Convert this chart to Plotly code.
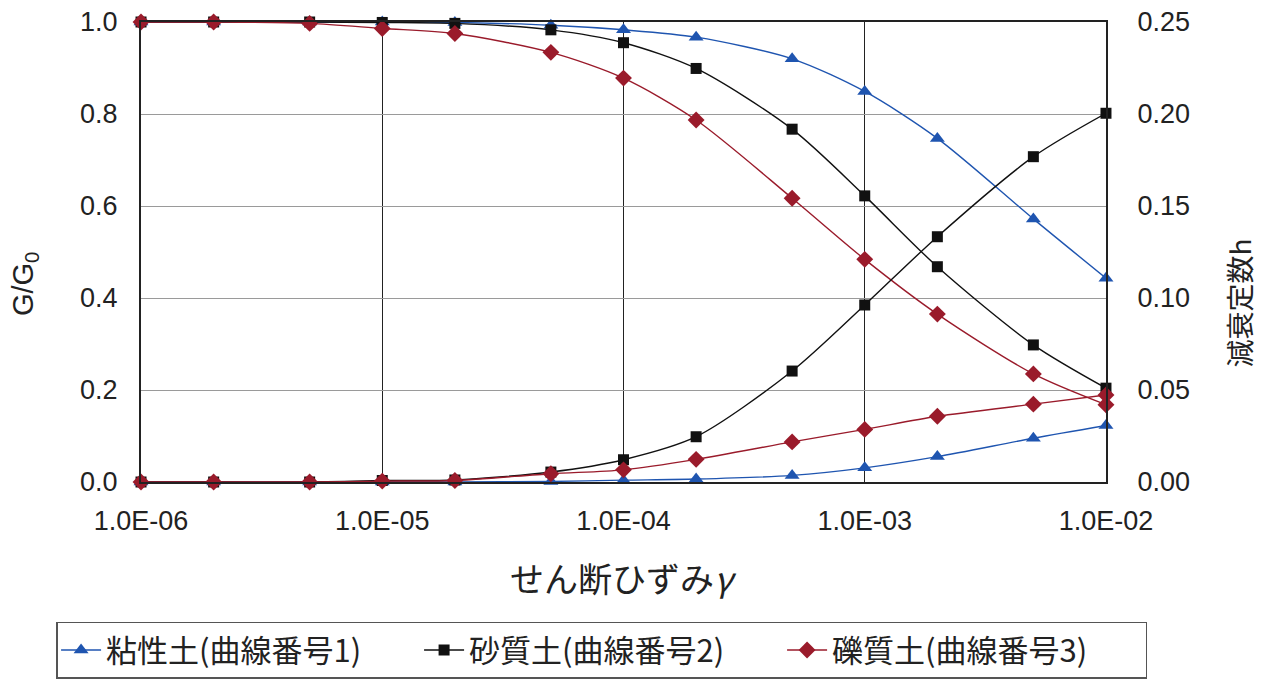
import plotly.graph_objects as go

# Shear strain levels (log scale)
strain = [1e-6, 2e-6, 5e-6, 1e-5, 2e-5, 5e-5, 1e-4, 2e-4, 5e-4, 1e-3, 2e-3, 5e-3, 1e-2]

# Shear modulus ratio G/G0
clay_g = [1.0, 1.0, 1.0, 1.0, 0.999, 0.993, 0.983, 0.967, 0.920, 0.849, 0.747, 0.572, 0.443]
sand_g = [1.0, 1.0, 1.0, 0.999, 0.997, 0.983, 0.955, 0.899, 0.767, 0.622, 0.468, 0.298, 0.204]
gravel_g = [1.0, 1.0, 0.997, 0.986, 0.975, 0.934, 0.878, 0.787, 0.617, 0.484, 0.365, 0.235, 0.168]

# Damping ratio h
clay_h = [0.0, 0.0, 0.0, 0.0, 0.0, 0.0003, 0.001, 0.0016, 0.0036, 0.0077, 0.0138, 0.0238, 0.0307]
sand_h = [0.0, 0.0, 0.0, 0.0008, 0.0011, 0.0054, 0.0121, 0.0246, 0.0603, 0.0962, 0.1333, 0.1768, 0.2004]
gravel_h = [0.0, 0.0, 0.0, 0.0005, 0.0008, 0.0045, 0.0066, 0.0123, 0.0218, 0.0286, 0.0357, 0.0423, 0.0473]

names = ["粘性土(曲線番号1)", "砂質土(曲線番号2)", "礫質土(曲線番号3)"]
colors = ["#1f55b0", "#111111", "#9a1b2b"]
symbols = ["triangle-up", "square", "diamond"]
sizes = [13, 11, 13]

x_tickvals = [1e-6, 1e-5, 1e-4, 1e-3, 1e-2]
x_ticktext = ["1.0E-06", "1.0E-05", "1.0E-04", "1.0E-03", "1.0E-02"]

FONT = "Liberation Sans, Arial, sans-serif"
CJK = "Noto Sans CJK JP, Noto Sans, sans-serif"
TXT = "#222222"

fig = go.Figure()

for name, color, sym, size, g, h in zip(
    names, colors, symbols, sizes,
    [clay_g, sand_g, gravel_g], [clay_h, sand_h, gravel_h],
):
    common = dict(
        mode="lines+markers",
        line=dict(color=color, width=1.4, shape="spline", smoothing=0.8),
        marker=dict(symbol=sym, size=size, color=color),
        legendgroup=name,
        cliponaxis=False,
    )
    fig.add_trace(go.Scatter(x=strain, y=g, name=name, yaxis="y", **common))
    fig.add_trace(go.Scatter(x=strain, y=h, name=name, yaxis="y2",
                             showlegend=False, **common))

fig.update_layout(
    width=1261,
    height=679,
    margin=dict(l=141, r=155, t=22, b=197, autoexpand=False),
    paper_bgcolor="white",
    plot_bgcolor="white",
    font=dict(family=FONT, size=28, color=TXT),
    xaxis=dict(
        type="log",
        range=[-6.0001, -1.9999],
        tickvals=x_tickvals,
        ticktext=x_ticktext,
        showgrid=True,
        gridcolor="#222222",
        gridwidth=1.3,
        showline=True,
        linecolor="#222222",
        linewidth=2,
        mirror=True,
        ticks="",
        ticklabelstandoff=14,
        tickfont=dict(family=FONT, size=27),
        zeroline=False,
    ),
    yaxis=dict(
        range=[0, 1.0],
        dtick=0.2,
        tickformat=".1f",
        showgrid=True,
        gridcolor="#9a9a9a",
        gridwidth=1,
        showline=True,
        linecolor="#222222",
        linewidth=2,
        mirror=True,
        ticks="",
        ticklabelstandoff=16,
        tickfont=dict(family=FONT, size=27),
        zeroline=False,
    ),
    yaxis2=dict(
        range=[0, 0.25],
        dtick=0.05,
        tickformat=".2f",
        overlaying="y",
        side="right",
        showgrid=False,
        showline=True,
        linecolor="#222222",
        linewidth=2,
        ticks="",
        ticklabelstandoff=24,
        tickfont=dict(family=FONT, size=27),
        zeroline=False,
    ),
    legend=dict(
        orientation="h",
        x=-0.088,
        y=-0.304,
        xanchor="left",
        yanchor="top",
        bordercolor="#555555",
        borderwidth=1.5,
        bgcolor="white",
        font=dict(family=CJK, size=31, color=TXT),
        itemwidth=40,
        entrywidth=308,
        entrywidthmode="pixels",
        tracegroupgap=0,
    ),
    showlegend=True,
    annotations=[
        # axis titles
        dict(text="せん断ひずみ<i>γ</i>", xref="paper", yref="paper",
             x=0.5, y=-0.208, xanchor="center", yanchor="middle",
             showarrow=False, font=dict(family=CJK, size=34, color=TXT)),
        dict(text="G/G<sub>0</sub>", xref="paper", yref="paper",
             x=-0.1203, y=0.43, xanchor="center", yanchor="middle",
             textangle=-90, showarrow=False,
             font=dict(family=FONT, size=29, color=TXT)),
        dict(text="減衰定数h", xref="paper", yref="paper",
             x=1.1378, y=0.39, xanchor="center", yanchor="middle",
             textangle=-90, showarrow=False,
             font=dict(family=CJK, size=28, color=TXT)),
    ],
)

fig.write_html("out.html")
